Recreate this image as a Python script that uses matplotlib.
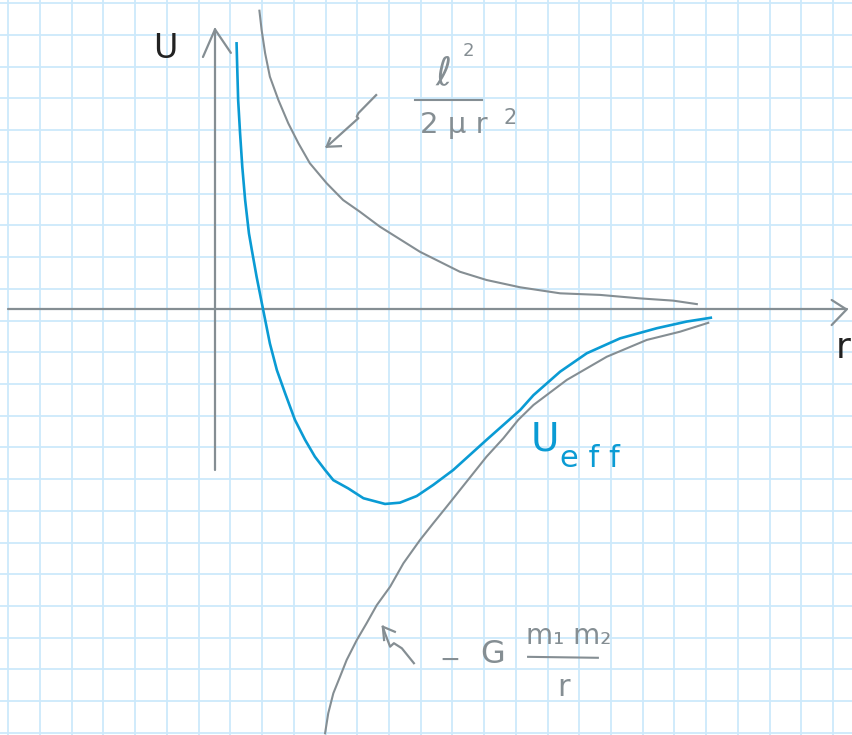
import numpy as np
import matplotlib
matplotlib.use("Agg")
import matplotlib.pyplot as plt

# units: one grid square, origin where the two axes cross
# centrifugal term l^2 / (2 mu r^2)
r_cent = [1.40, 1.47, 1.58, 1.73, 2.00, 2.31, 2.63, 2.99, 3.52, 4.04, 4.57,
          5.20, 6.46, 7.72, 8.56, 9.62, 10.88, 12.14, 13.40, 14.44, 15.19]
u_cent = [9.42, 8.81, 8.08, 7.34, 6.60, 5.87, 5.24, 4.61, 3.98, 3.45, 3.08,
          2.61, 1.82, 1.19, 0.93, 0.70, 0.51, 0.46, 0.35, 0.28, 0.17]

# effective potential U_eff
r_eff = [0.68, 0.70, 0.73, 0.79, 0.86, 0.95, 1.07, 1.16, 1.31, 1.52, 1.73,
         1.95, 2.21, 2.52, 2.84, 3.15, 3.47, 3.73, 4.20, 4.68, 5.36, 5.83,
         6.36, 6.88, 7.51, 8.56, 9.62, 10.04, 10.88, 11.72, 12.77, 13.93,
         14.87, 15.63]
u_eff = [8.39, 7.65, 6.60, 5.56, 4.50, 3.45, 2.40, 1.88, 1.04, -0.02, -1.07,
         -1.91, -2.64, -3.48, -4.11, -4.64, -5.06, -5.38, -5.64, -5.95,
         -6.13, -6.09, -5.88, -5.53, -5.06, -4.11, -3.17, -2.70, -1.96,
         -1.38, -0.91, -0.59, -0.38, -0.26]

# gravitational term -G m1 m2 / r
r_grav = [3.47, 3.57, 3.73, 3.94, 4.15, 4.47, 4.78, 5.10, 5.52, 5.94, 6.46,
          6.88, 7.30, 7.93, 8.56, 9.09, 9.56, 10.04, 11.09, 12.35, 13.61,
          14.66, 15.55]
u_grav = [-13.36, -12.73, -12.10, -11.58, -11.05, -10.42, -9.89, -9.32,
          -8.74, -8.00, -7.27, -6.74, -6.22, -5.43, -4.64, -4.06, -3.48,
          -3.01, -2.22, -1.49, -0.96, -0.70, -0.42]

# hand drawn pointer arrows
arrow_top_x = [5.08, 4.52, 4.47, 4.52, 3.52]
arrow_top_y = [6.76, 6.19, 6.08, 6.03, 5.13]
arrow_top_head_x = [3.63, 3.52, 3.97]
arrow_top_head_y = [5.40, 5.13, 5.15]
arrow_bot_x = [6.27, 5.89, 5.64, 5.52, 5.36, 5.29]
arrow_bot_y = [-11.15, -10.68, -10.52, -10.63, -10.21, -10.00]
arrow_bot_head_x = [5.33, 5.29, 5.67]
arrow_bot_head_y = [-10.42, -10.00, -10.16]

# axes of the sketch
yaxis_x = [0.0, 0.0]
yaxis_y = [-5.06, 8.83]
yhead_x = [-0.38, 0.0, 0.50]
yhead_y = [7.96, 8.83, 8.09]
xaxis_x = [-6.53, 19.91]
xaxis_y = [0.0, 0.0]
xhead_x = [19.44, 19.91, 19.44]
xhead_y = [0.30, 0.0, -0.49]

GRAY = "#858e93"
BLUE = "#0a9bd4"
GRID = "#cde9fb"
INK = "#222222"

fig = plt.figure(figsize=(8.53, 7.35), dpi=100)
ax = fig.add_axes([0, 0, 1, 1])
ax.set_xlim(-6.778, 20.113)
ax.set_ylim(-13.414, 9.757)
ax.axis("off")

# graph paper
for gx in np.arange(-6.516, 20.2, 1.0):
    ax.axvline(gx, color=GRID, lw=1.3, zorder=0)
for gy in np.arange(9.653, -13.5, -1.0):
    ax.axhline(gy, color=GRID, lw=1.3, zorder=0)

# axes
ax.plot(yaxis_x, yaxis_y, color=GRAY, lw=1.6, solid_capstyle="round")
ax.plot(yhead_x, yhead_y, color=GRAY, lw=1.6, solid_capstyle="round")
ax.plot(xaxis_x, xaxis_y, color=GRAY, lw=1.6, solid_capstyle="round")
ax.plot(xhead_x, xhead_y, color=GRAY, lw=1.6, solid_capstyle="round")

# curves
ax.plot(r_cent, u_cent, color=GRAY, lw=1.5)
ax.plot(r_grav, u_grav, color=GRAY, lw=1.5)
ax.plot(r_eff, u_eff, color=BLUE, lw=1.9)

# pointers
ax.plot(arrow_top_x, arrow_top_y, color=GRAY, lw=1.6)
ax.plot(arrow_top_head_x, arrow_top_head_y, color=GRAY, lw=1.6)
ax.plot(arrow_bot_x, arrow_bot_y, color=GRAY, lw=1.6)
ax.plot(arrow_bot_head_x, arrow_bot_head_y, color=GRAY, lw=1.6)

# labels
ax.text(-1.58, 8.24, "U", color=INK, fontsize=24, ha="center", va="center")
ax.text(19.80, -1.21, "r", color=INK, fontsize=26, ha="center", va="center")

ax.text(7.19, 7.45, "ℓ", color=GRAY, fontsize=28, ha="center", va="center")
ax.text(7.98, 8.15, "2", color=GRAY, fontsize=13, ha="center", va="center")
ax.plot([6.31, 8.42], [6.60, 6.60], color=GRAY, lw=1.5)
ax.text(7.54, 5.83, "2 μ r", color=GRAY, fontsize=21, ha="center", va="center")
ax.text(9.30, 6.03, "2", color=GRAY, fontsize=15, ha="center", va="center")

ax.text(7.41, -11.05, "−", color=GRAY, fontsize=18, ha="center", va="center")
ax.text(8.76, -10.89, "G", color=GRAY, fontsize=23, ha="center", va="center")
ax.text(11.16, -10.30, "m₁ m₂", color=GRAY, fontsize=20, ha="center", va="center")
ax.plot([9.87, 12.07], [-10.95, -10.98], color=GRAY, lw=1.5)
ax.text(11.0, -11.93, "r", color=GRAY, fontsize=22, ha="center", va="center")

ax.text(10.40, -4.11, "U", color=BLUE, fontsize=28, ha="center", va="center")
ax.text(11.82, -4.70, "e f f", color=BLUE, fontsize=22, ha="center", va="center")

fig.savefig("out.png", dpi=100)
